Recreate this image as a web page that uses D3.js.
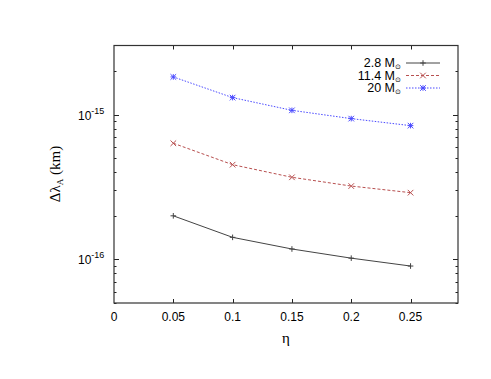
<!DOCTYPE html>
<html><head><meta charset="utf-8">
<script src="https://cdn.jsdelivr.net/npm/d3@7"></script>
<style>body{margin:0;background:#fff}svg{display:block}</style>
</head><body>
<script>
const etaValues = [0.05, 0.1, 0.15, 0.2, 0.25];
const seriesNames = ["2.8", "11.4", "20"];
const series28 = [2.0e-16, 1.42e-16, 1.18e-16, 1.02e-16, 0.90e-16];
const series114 = [6.34e-16, 4.51e-16, 3.69e-16, 3.21e-16, 2.89e-16];
const series20 = [1.82e-15, 1.31e-15, 1.07e-15, 0.938e-15, 0.839e-15];
const xTicks = [0, 0.05, 0.1, 0.15, 0.2, 0.25];
const xTickLabels = ["0", "0.05", "0.1", "0.15", "0.2", "0.25"];
const yMajorTicks = [1e-16, 1e-15];
const yTickExponents = ["-16", "-15"];

const W = 491, H = 379;
const m = {l:114, r:458, t:45.5, b:303};
const svg = d3.select("body").append("svg").attr("width", W).attr("height", H);
const x = d3.scaleLinear().domain([0, 0.29]).range([m.l, m.r]);
const y = d3.scaleLog().domain([5e-17, 3e-15]).range([m.b, m.t]);

const font = "'Liberation Sans', Arial, sans-serif";
const serif = "'Liberation Serif', 'Times New Roman', serif";

const minor = [];
for (let e = -17; e <= -15; e++) for (let k = 1; k <= 9; k++) {
  const v = k * Math.pow(10, e);
  if (v >= 5e-17 && v <= 3e-15) minor.push({v, major: k === 1});
}
const tg = svg.append("g").attr("stroke", "#222").attr("stroke-width", 1);
minor.forEach(d => {
  const yy = Math.round(y(d.v)) + 0.5;
  const len = d.major ? 5 : 2.5;
  tg.append("line").attr("x1", m.l).attr("x2", m.l + len).attr("y1", yy).attr("y2", yy);
  tg.append("line").attr("x1", m.r).attr("x2", m.r - len).attr("y1", yy).attr("y2", yy);
});
xTicks.slice(1).forEach(v => {
  const xx = Math.round(x(v)) + 0.5;
  tg.append("line").attr("x1", xx).attr("x2", xx).attr("y1", m.b).attr("y2", m.b - 4);
  tg.append("line").attr("x1", xx).attr("x2", xx).attr("y1", m.t).attr("y2", m.t + 4);
});

svg.append("rect").attr("x", m.l).attr("y", m.t).attr("width", m.r - m.l).attr("height", m.b - m.t)
  .attr("fill", "none").attr("stroke", "#333").attr("stroke-width", 1.2);

xTicks.forEach((v, i) => {
  svg.append("text").attr("x", x(v)).attr("y", 321).attr("text-anchor", "middle")
    .attr("font-family", font).attr("font-size", 12).attr("fill", "#000").text(xTickLabels[i]);
});
yMajorTicks.forEach((v, i) => {
  const t = svg.append("text").attr("x", 78).attr("y", y(v) + 5).attr("font-family", font)
    .attr("font-size", 12).attr("fill", "#000");
  t.append("tspan").text("10");
  t.append("tspan").attr("dy", -6).attr("font-size", 9).text(yTickExponents[i]);
});

svg.append("text").attr("x", 286).attr("y", 343).attr("text-anchor", "middle")
  .attr("font-family", serif).attr("font-size", 15).text("η");
const yl = svg.append("text").attr("transform", "translate(60,174) rotate(-90)")
  .attr("text-anchor", "middle").attr("font-family", serif).attr("font-size", 15);
yl.append("tspan").text("Δλ");
yl.append("tspan").attr("dy", 3).attr("font-size", 9).text("A");
yl.append("tspan").attr("dy", -3).text(" (km)");

const defs = [
  {vals: series28, color: "#444444", dash: null, marker: "plus"},
  {vals: series114, color: "#b85050", dash: "3,2", marker: "cross"},
  {vals: series20, color: "#4a4aff", dash: "1.5,1.5", marker: "star"}
];
function drawMarker(g, cx, cy, type, color) {
  const s = 2.8;
  const p = [];
  if (type === "plus" || type === "star") p.push([cx - s, cy, cx + s, cy], [cx, cy - s, cx, cy + s]);
  if (type === "cross" || type === "star") p.push([cx - s, cy - s, cx + s, cy + s], [cx - s, cy + s, cx + s, cy - s]);
  p.forEach(q => g.append("line").attr("x1", q[0]).attr("y1", q[1]).attr("x2", q[2]).attr("y2", q[3])
    .attr("stroke", color).attr("stroke-width", 1));
}
const line = d3.line().x(d => x(d[0])).y(d => y(d[1]));
defs.forEach(d => {
  const pts = etaValues.map((e, i) => [e, d.vals[i]]);
  svg.append("path").attr("d", line(pts)).attr("fill", "none").attr("stroke", d.color)
    .attr("stroke-width", 1).attr("stroke-dasharray", d.dash);
  const g = svg.append("g");
  pts.forEach(p => drawMarker(g, x(p[0]), y(p[1]), d.marker, d.color));
});

const ly = [63, 75.5, 88];
defs.forEach((d, i) => {
  const t = svg.append("text").attr("x", 401).attr("y", ly[i] + 4).attr("text-anchor", "end")
    .attr("font-family", font).attr("font-size", 12.5).attr("fill", "#000");
  t.append("tspan").text(seriesNames[i] + " M");
  t.append("tspan").attr("dy", 2).attr("font-size", 7).text("⊙");
  svg.append("line").attr("x1", 406).attr("x2", 440).attr("y1", ly[i]).attr("y2", ly[i])
    .attr("stroke", d.color).attr("stroke-width", 1).attr("stroke-dasharray", d.dash);
  drawMarker(svg, 423, ly[i], d.marker, d.color);
});
</script>
</body></html>
